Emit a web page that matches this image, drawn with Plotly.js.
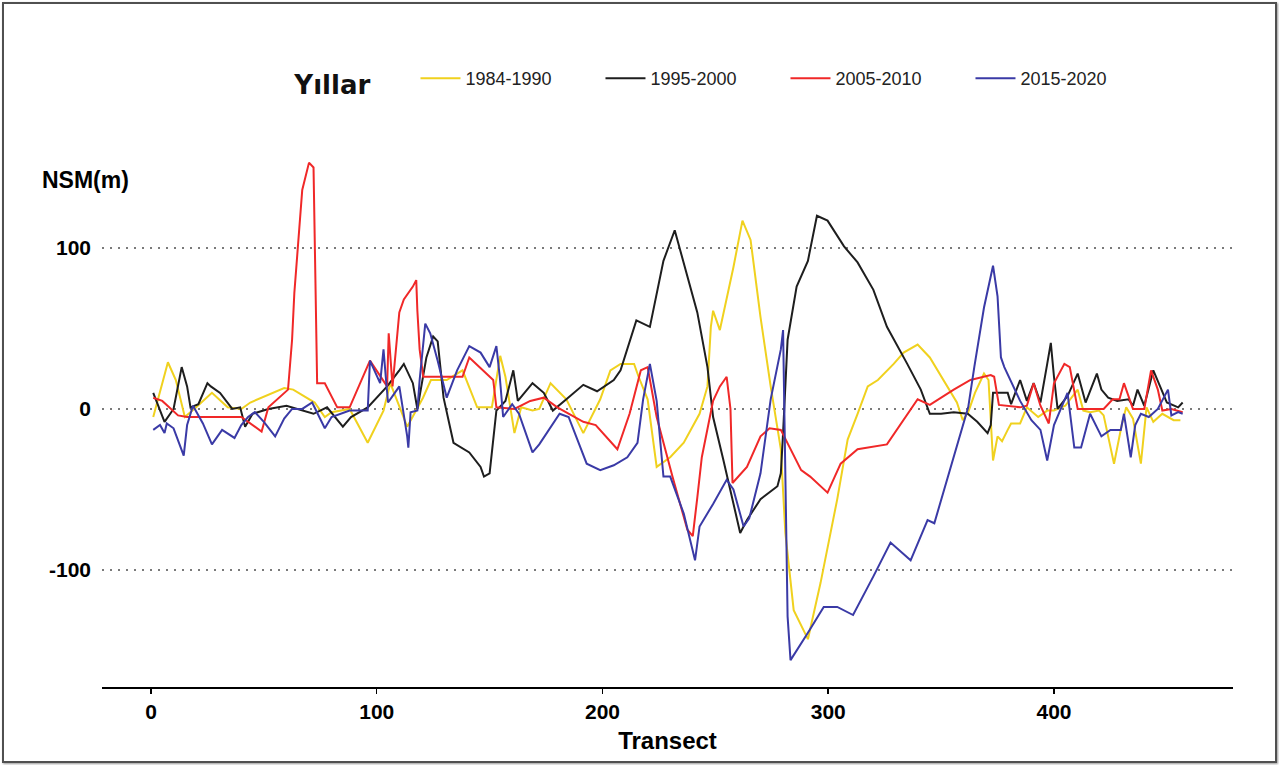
<!DOCTYPE html>
<html>
<head>
<meta charset="utf-8">
<script src="https://cdn.plot.ly/plotly-3.0.1.min.js"></script>
<style>
  html, body { margin: 0; padding: 0; background: #ffffff; }
  #wrap { position: relative; width: 1279px; height: 765px; }
  #chart { position: absolute; left: 0; top: 0; width: 1279px; height: 765px; }
  #frame { position: absolute; left: 2px; top: 2px; width: 1271px; height: 757px;
           border: 2px solid #505050; box-shadow: 1px 1px 2px #999; pointer-events: none; }
</style>
</head>
<body>
<div id="wrap">
  <div id="chart"></div>
  <div id="frame"></div>
</div>
<script>
// ---- Data ----
const seriesNames = ["1984-1990", "1995-2000", "2005-2010", "2015-2020"];
const seriesColors = ["#F0D11E", "#1E1E1E", "#F02828", "#3A3AA6"];

const xYellow = [1, 7.5, 11, 15, 20, 27, 34, 40, 44, 51,
  59, 63, 72.5, 77, 80, 88, 96, 103, 106, 113.5,
  117, 120.5, 124, 131, 138, 144.5, 151, 154.7, 157, 161,
  164, 169, 172, 177, 184, 191.5, 199, 203.5, 208, 214,
  216, 220, 224, 230, 236, 243, 246.5, 248, 249, 252,
  258, 262, 265.6, 270, 274.5, 279, 281, 284.7, 291, 296.6,
  304, 308.6, 313, 317.5, 322, 329, 333.4, 339.6, 345, 351,
  357, 359.6, 362, 365, 369, 371, 373, 375, 377, 379.5,
  381, 385, 388, 393, 397, 400, 405, 410.5, 413, 416,
  420, 422, 426.6, 430, 432, 435, 438.5, 441, 444, 448,
  453, 456];
const yYellow = [-5, 29, 18, -5, 1, 10, 1, 0, 4, 8,
  13, 12, 4, -5, -2, 0, -21, -1, 16, -11,
  -2, 7, 18, 18, 24, 1, 1, 33, 20, -15,
  1, -1, 0, 16, 6, -15, 6, 24, 28, 28,
  20, 6, -36, -30, -21, -3, 14, 51, 61, 49,
  88, 117, 105, 57, 14, -25, -77, -125, -143, -108,
  -56, -19, -3, 14, 18, 28, 35, 40, 32, 18,
  4, -7, -2, 10, 22, 18, -32, -17, -20, -13,
  -9, -9, 1, -5, -1, -1, 2, 12, -1, -2,
  -1, -4, -34, -10, 1, -6, -34, 1, -8, -3,
  -7, -7];

const xBlack = [1, 6, 10, 13.6, 16, 17.5, 21, 25, 26.5, 30.6,
  36, 39.5, 41.7, 45, 52, 60, 72, 78, 85, 88.6,
  96, 104.6, 110, 112, 116, 118, 122, 125, 127, 129.6,
  134, 141, 146, 147.5, 150, 153, 157, 160.5, 162.5, 169,
  174, 178, 184, 191.5, 197.6, 205, 208, 215, 221, 227,
  232, 237.6, 242, 246.5, 249, 253.6, 261, 264, 270, 277.5,
  279, 280, 282, 286, 291, 295, 299.7, 307, 313, 320,
  326, 335, 341, 345, 350, 355.6, 361.8, 366, 370.6, 372,
  373, 379.5, 381, 385, 388, 391, 394, 397, 398.6, 400,
  401.6, 406, 410.5, 414, 419, 421, 424, 428, 433, 435,
  437, 440, 444, 447, 450, 455, 457];
const yBlack = [10, -8, 0, 26, 14, 1, 3, 16, 14, 10,
  0, 1, -11, -3, 0, 2, -3, 1, -11, -5,
  1, 14, 24, 28, 16, 0, 32, 45, 42, 7,
  -21, -27, -36, -42, -40, -1, 5, 24, 5, 16,
  10, -1, 6, 15, 11, 18, 24, 55, 51, 92,
  111, 82, 60, 26, -5, -32, -77, -69, -56, -48,
  -40, -15, 43, 76, 92, 120, 117, 101, 91, 74,
  51, 28, 12, -3, -3, -2, -3, -8, -15, -10,
  10, 10, 3, 18, 5, 16, 4, 28, 41, 20,
  0, 8, 22, 4, 22, 12, 7, 5, 6, 2,
  12, 2, 24, 14, 4, 1, 4];

const xRed = [1, 5, 12, 16, 40, 44, 49, 52, 56, 60.7,
  62.5, 63.5, 67, 70, 72, 73.6, 77, 82.5, 88, 97,
  104.6, 105.3, 107, 110, 112, 116, 117.5, 118, 119, 120.6,
  138, 141, 151.6, 153, 161, 168, 174, 180, 191.5, 197,
  206.6, 212, 217, 220, 224, 231, 237.6, 240, 242, 244,
  249, 252, 255, 256.7, 257.6, 264, 270, 274, 279, 282,
  288, 292, 299.7, 305.5, 313, 326, 339.6, 345, 355.6, 363,
  372, 373.5, 375.6, 385, 388, 391, 394, 397.7, 400, 404.6,
  407, 410.5, 422, 426, 429, 431, 435, 440, 443, 446,
  448, 452, 457];
const yRed = [7, 5, -4, -5, -5, -9, -14, 1, 6, 12,
  43, 72, 136, 153, 150, 16, 16, 1, 1, 30,
  14, 47, 14, 60, 68, 76, 80, 61, 37, 20,
  20, 32, 18, 1, 0, 5, 7, 1, -8, -10,
  -25, -3, 24, 26, -5, -42, -75, -79, -55, -30,
  5, 14, 20, 0, -46, -36, -17, -12, -13, -21,
  -38, -42, -52, -34, -25, -22, 6, 2.5, 12, 18,
  21, 20, 2.5, 1, 2, 16, 2, -9, 16, 28,
  26, 0, 0, 6, 6, 16, 0, 0, 24, 12,
  -1, 0, -2];

const xBlue = [1, 4, 6, 7, 10, 13.7, 14.5, 16, 18.6, 23,
  27, 31.5, 37, 40, 43, 46, 50, 55, 59, 62.5,
  67, 71.4, 77, 80, 88, 96, 97, 101.5, 103, 104,
  105, 107, 110, 113.5, 114, 115, 118, 119, 121.5, 123.7,
  127, 131, 135.6, 141, 146, 150, 153, 154.5, 156, 160,
  163, 169, 172, 181, 185, 193, 199, 205, 211, 215.5,
  218, 221, 224, 227, 230, 236, 241, 243, 249, 255,
  258, 262.5, 265, 270, 274.5, 279, 280, 282, 283.3, 291,
  298, 304, 311, 320, 327.6, 336.5, 344, 347, 351, 357,
  362, 364.7, 369, 373, 375, 376.5, 378, 385, 390, 394,
  397, 400, 406, 409, 412, 416, 421, 425, 429.6, 431,
  434, 436, 438.5, 442, 446, 450.5, 452, 455, 457];
const yBlue = [-13, -10, -15, -9, -12, -25, -29, -10, 2, -9,
  -22, -13, -18, -10, -5, -2, -8, -17, -6, 0,
  0, 4, -12, -5, -1, -1, 30, 16, 37, 20,
  4, 8, 14, -17, -24, -2, -1, 18, 53, 47,
  30, 7, 24, 39, 35, 26, 39, 20, -5, 3,
  -3, -27, -22, -3, -5, -34, -38, -35, -30, -21,
  6, 28, 5, -42, -42, -65, -94, -73, -59, -44,
  -50, -73, -68, -40, 6, 37, 49, -129, -156, -139,
  -123, -123, -128, -104, -83, -94, -69, -71, -52, -24,
  1, 26, 63, 89, 70, 32, 26, 5, -7, -13,
  -32, -10, 10, -24, -24, -3, -17, -13, -13, -3,
  -30, -10, -3, -5, 0, 12, -4, -2, -3];

const xTickVals = [0, 100, 200, 300, 400];
const yTickVals = [-100, 0, 100];

// ---- Traces ----
const xs = [xYellow, xBlack, xRed, xBlue];
const ys = [yYellow, yBlack, yRed, yBlue];
const traces = seriesNames.map((name, i) => ({
  type: "scatter",
  mode: "lines",
  name: name,
  x: xs[i],
  y: ys[i],
  line: { color: seriesColors[i], width: 2 }
}));

const layout = {
  width: 1279,
  height: 765,
  paper_bgcolor: "#ffffff",
  plot_bgcolor: "#ffffff",
  margin: { l: 102, r: 46, t: 138, b: 78 },
  showlegend: true,
  legend: {
    orientation: "h",
    x: 0.1683,
    xanchor: "left",
    y: 1.102,
    yanchor: "middle",
    bgcolor: "rgba(0,0,0,0)",
    font: { family: "Liberation Sans, Arial, sans-serif", size: 18, color: "#222222" },
    title: { text: "Yıllar\u00A0\u00A0\u00A0\u00A0", side: "left", font: { family: "DejaVu Sans, sans-serif", size: 26, color: "#111111", weight: "bold" } },
    itemwidth: 40,
    entrywidth: 130,
    traceorder: "normal"
  },
  xaxis: {
    range: [-21.7, 479.3],
    tickvals: xTickVals,
    ticktext: xTickVals.map(String),
    showgrid: false,
    zeroline: false,
    showline: true,
    linecolor: "#000000",
    linewidth: 2,
    ticks: "outside",
    ticklen: 5,
    tickwidth: 1.5,
    tickcolor: "#000000",
    tickfont: { family: "Liberation Sans, Arial, sans-serif", size: 21, color: "#000000", weight: "bold" },
    title: { text: "Transect", standoff: 10, font: { family: "Liberation Sans, Arial, sans-serif", size: 24, color: "#000000", weight: "bold" } },
    automargin: false
  },
  yaxis: {
    range: [-172.7, 168.3],
    tickvals: yTickVals,
    ticktext: yTickVals.map(String),
    showgrid: true,
    gridcolor: "#7a7a7a",
    gridwidth: 2,
    griddash: "2px,6px",
    zeroline: false,
    showline: false,
    ticks: "",
    ticklabelstandoff: 10,
    tickfont: { family: "Liberation Sans, Arial, sans-serif", size: 21, color: "#000000", weight: "bold" },
    automargin: false
  },
  annotations: [{
    text: "NSM(m)",
    xref: "paper", yref: "paper",
    x: -0.055, y: 0.9235,
    xanchor: "left", yanchor: "middle",
    showarrow: false,
    font: { family: "Liberation Sans, Arial, sans-serif", size: 23, color: "#000000", weight: "bold" }
  }]
};

Plotly.newPlot("chart", traces, layout, { displayModeBar: false, staticPlot: true });
</script>
</body>
</html>
